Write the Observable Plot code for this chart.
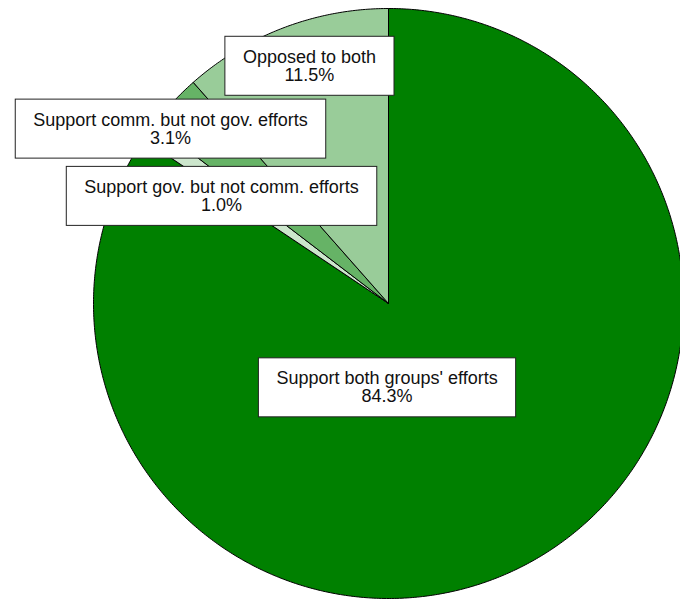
<!DOCTYPE html>
<html>
<head>
<meta charset="utf-8">
<script src="https://cdn.jsdelivr.net/npm/d3@7"></script>
<script src="https://cdn.jsdelivr.net/npm/@observablehq/plot@0.6"></script>
<style>
  html, body { margin: 0; padding: 0; background: #fff; }
  #chart svg { display: block; }
</style>
</head>
<body>
<div id="chart"></div>
<script>
// Data (clockwise from 12 o'clock)
const categories = ["Support both groups' efforts", "Support gov. but not comm. efforts", "Support comm. but not gov. efforts", "Opposed to both"];
const shares = [84.3, 1.0, 3.1, 11.5];
const colors = ["#008000", "#cce6cc", "#66b366", "#99cc99"];
// label box centres, in pie-radius units (layout)
const labelX = [-0.005, -0.566, -0.739, -0.268];
const labelY = [-0.285, 0.364, 0.592, 0.805];

const arcs = d3.pie().sort(null).value(d => d)(shares);
const points = [];
arcs.forEach((a, i) => {
  const cat = categories[i];
  points.push({cat, x: 0, y: 0});
  const n = Math.max(2, Math.ceil((a.endAngle - a.startAngle) / (Math.PI / 360)));
  for (let k = 0; k <= n; k++) {
    const t = a.startAngle + (a.endAngle - a.startAngle) * k / n;
    points.push({cat, x: Math.sin(t), y: Math.cos(t)});
  }
  points.push({cat, x: 0, y: 0});
});

const labels = categories.map((c, i) => ({
  text: c + "\n" + shares[i].toFixed(1) + "%",
  x: labelX[i], y: labelY[i]
}));

const chart = Plot.plot({
  width: 680,
  height: 599,
  margin: 0,
  style: {background: "#fff", fontFamily: "'Liberation Sans', Arial, sans-serif"},
  x: {domain: [-1, 1], range: [93, 683], axis: null},
  y: {domain: [-1, 1], range: [598, 8], axis: null},
  color: {domain: categories, range: colors},
  marks: [
    Plot.line(points, {x: "x", y: "y", z: "cat", fill: "cat", stroke: "#000", strokeWidth: 1, curve: "linear"}),
    Plot.text(labels, {x: "x", y: "y", text: "text", fontSize: 18, lineHeight: 1, lineAnchor: "middle", fill: "#111", textAnchor: "middle"})
  ]
});
document.getElementById("chart").appendChild(chart);

// white boxes behind label text
const textGroups = chart.querySelectorAll('g[aria-label="text"]');
textGroups.forEach(g => {
  g.querySelectorAll("text").forEach(t => {
    const b = t.getBBox();
    const padX = 18, padY = 10.5;
    const r = document.createElementNS("http://www.w3.org/2000/svg", "rect");
    r.setAttribute("x", b.x - padX);
    r.setAttribute("y", b.y - padY);
    r.setAttribute("width", b.width + 2 * padX);
    r.setAttribute("height", b.height + 2 * padY);
    r.setAttribute("fill", "#fff");
    r.setAttribute("stroke", "#222");
    r.setAttribute("stroke-width", 1);
    const tr = t.getAttribute("transform");
    if (tr) r.setAttribute("transform", tr);
    g.insertBefore(r, t);
  });
});
</script>
</body>
</html>
